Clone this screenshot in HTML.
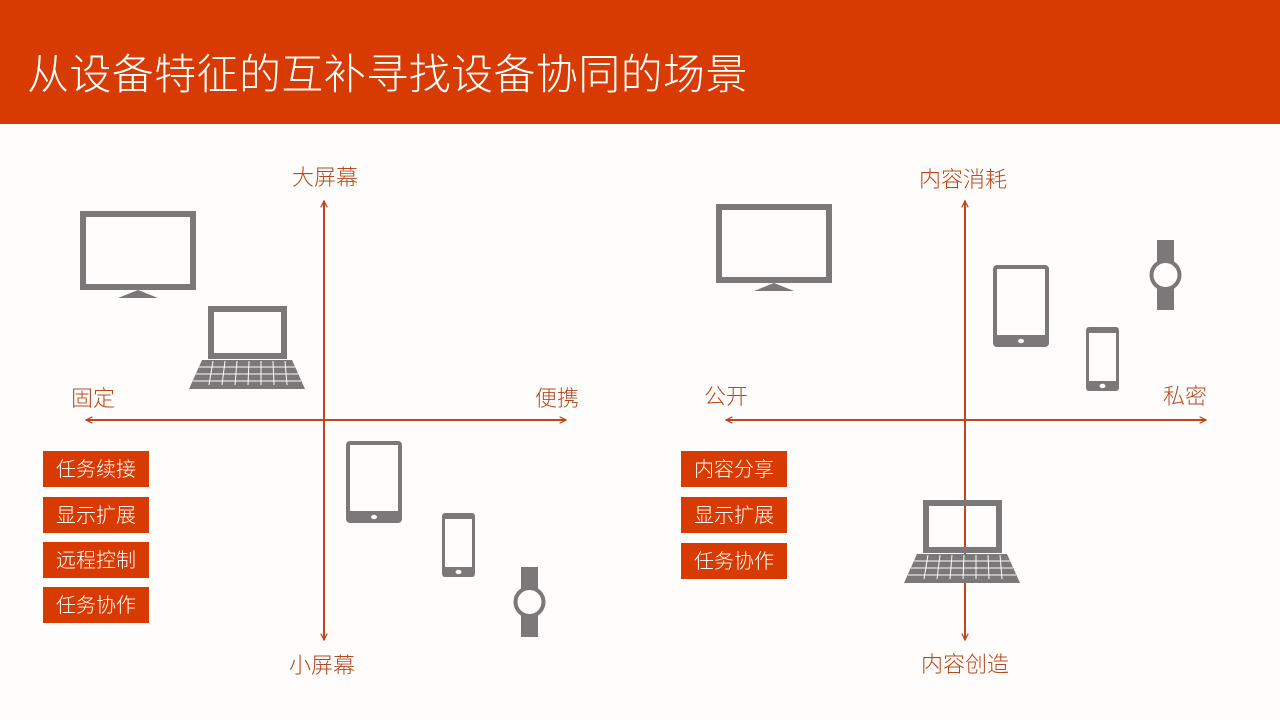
<!DOCTYPE html>
<html><head><meta charset="utf-8"><style>
html,body{margin:0;padding:0;}
body{width:1280px;height:720px;background:#fefdfb;position:relative;overflow:hidden;font-family:"Liberation Sans","Noto Sans CJK SC",sans-serif;}
.hdr{position:absolute;left:0;top:0;width:1280px;height:124px;background:#d83b01;}
.title{position:absolute;left:27px;top:50px;font-size:42px;line-height:50px;color:#fff;font-weight:300;letter-spacing:0.4px;white-space:nowrap;}
.lbl{position:absolute;font-size:22px;line-height:26px;color:#b8491f;font-weight:300;white-space:nowrap;transform:translateX(-50%);}
.box{position:absolute;width:106px;height:36px;background:#d83b01;color:#fff;font-size:20px;line-height:38px;text-align:center;font-weight:300;}
</style></head><body>
<div class="hdr"></div>
<div class="title">从设备特征的互补寻找设备协同的场景</div>
<svg width="1280" height="720" style="position:absolute;left:0;top:0">
<defs>
<marker id="ar" viewBox="0 0 10 10" refX="9" refY="5" markerWidth="8" markerHeight="8" orient="auto" markerUnits="userSpaceOnUse">
<path d="M1,1 L9,5 L1,9" fill="none" stroke="#c0441e" stroke-width="1.6"/></marker>
<g id="tv"><rect x="3" y="3" width="110" height="73" fill="none" stroke="#7a7879" stroke-width="6"/><polygon points="38,87 58,79 78,87" fill="#7a7879"/></g>
<g id="lap"><rect x="22" y="3" width="73" height="47" fill="none" stroke="#7a7879" stroke-width="6"/>
<polygon points="13,54 103,54 116,83 0,83" fill="#7a7879"/>
<g stroke="#fefdfb" stroke-width="1"><line x1="10" y1="61" x2="106" y2="61"/><line x1="7" y1="68" x2="109" y2="68"/><line x1="4" y1="75" x2="112" y2="75"/>
<line x1="24" y1="55" x2="20" y2="79"/><line x1="36" y1="55" x2="33" y2="79"/><line x1="48" y1="55" x2="46" y2="79"/><line x1="60" y1="55" x2="59" y2="79"/><line x1="72" y1="55" x2="72" y2="79"/><line x1="84" y1="55" x2="85" y2="79"/><line x1="96" y1="55" x2="98" y2="79"/></g></g>
<g id="tab"><rect x="0" y="0" width="56" height="82" rx="4" fill="#7a7879"/><rect x="4" y="4" width="48" height="66" fill="#fefdfb"/><ellipse cx="28" cy="76" rx="3" ry="2.2" fill="#fefdfb"/></g>
<g id="ph"><rect x="0" y="0" width="33" height="64" rx="3" fill="#7a7879"/><rect x="3" y="6" width="27" height="48" fill="#fefdfb"/><ellipse cx="16.5" cy="59" rx="3" ry="2.2" fill="#fefdfb"/></g>
<g id="wt"><rect x="0" y="0" width="17" height="70" fill="#7a7879"/><circle cx="8.5" cy="35" r="14" fill="#fefdfb" stroke="#7a7879" stroke-width="4"/></g>
</defs>
<g stroke="#c0441e" stroke-width="2" marker-end="url(#ar)">
<line x1="324" y1="420" x2="324" y2="201"/><line x1="324" y1="420" x2="324" y2="640"/>
<line x1="324" y1="420" x2="86" y2="420"/><line x1="324" y1="420" x2="566" y2="420"/>
<line x1="965" y1="420" x2="965" y2="201"/><line x1="965" y1="420" x2="965" y2="640"/>
<line x1="965" y1="420" x2="726" y2="420"/><line x1="965" y1="420" x2="1206" y2="420"/>
</g>
<use href="#tv" x="80" y="211"/>
<use href="#lap" x="189" y="306"/>
<use href="#tab" x="346" y="441"/>
<use href="#ph" x="442" y="513"/>
<use href="#wt" x="521" y="567"/>
<use href="#tv" x="716" y="204"/>
<use href="#tab" x="993" y="265"/>
<use href="#wt" x="1157" y="240"/>
<use href="#ph" x="1086" y="327"/>
<use href="#lap" x="904" y="500"/>
</svg>
<div class="lbl" style="left:325px;top:165px">大屏幕</div>
<div class="lbl" style="left:322px;top:653px">小屏幕</div>
<div class="lbl" style="left:93px;top:386px">固定</div>
<div class="lbl" style="left:557px;top:386px">便携</div>
<div class="lbl" style="left:963px;top:167px">内容消耗</div>
<div class="lbl" style="left:965px;top:652px">内容创造</div>
<div class="lbl" style="left:726px;top:384px">公开</div>
<div class="lbl" style="left:1185px;top:384px">私密</div>
<div class="box" style="left:43px;top:451px">任务续接</div>
<div class="box" style="left:43px;top:497px">显示扩展</div>
<div class="box" style="left:43px;top:542px">远程控制</div>
<div class="box" style="left:43px;top:587px">任务协作</div>
<div class="box" style="left:681px;top:451px">内容分享</div>
<div class="box" style="left:681px;top:497px">显示扩展</div>
<div class="box" style="left:681px;top:543px">任务协作</div>
</body></html>
